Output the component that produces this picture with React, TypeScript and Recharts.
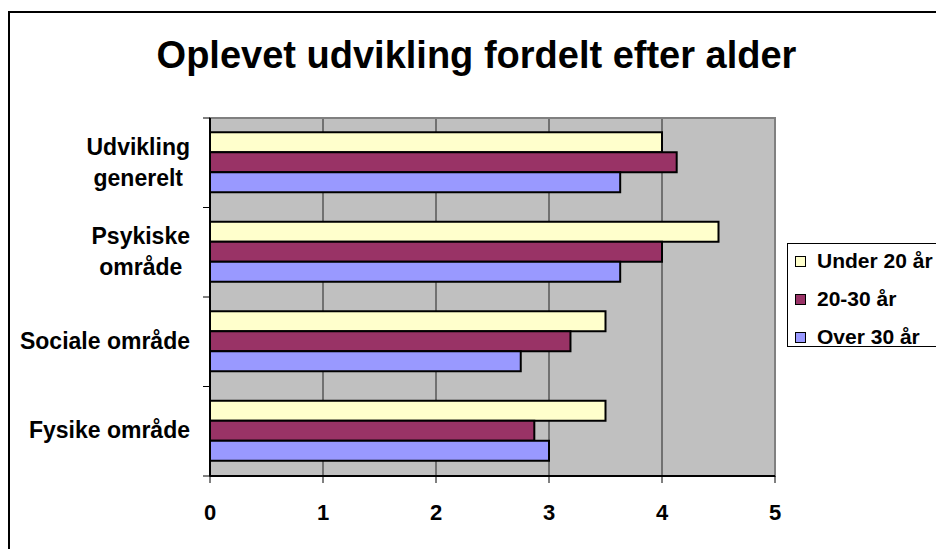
import { BarChart, Bar, XAxis, YAxis, CartesianGrid, ReferenceArea } from 'recharts'

const categories = ['Udvikling generelt', 'Psykiske område', 'Sociale område', 'Fysike område']
const categoryLines = [['Udvikling', 'generelt'], ['Psykiske', 'område'], ['Sociale område'], ['Fysike område']]
const seriesNames = ['Under 20 år', '20-30 år', 'Over 30 år']
const under20 = [4.0, 4.5, 3.5, 3.5]
const age20to30 = [4.13, 4.0, 3.19, 2.87]
const over30 = [3.63, 3.63, 2.75, 3.0]
const xTicks = [0, 1, 2, 3, 4, 5]

const seriesColors = ['#FFFFCC', '#993366', '#9999FF']
const seriesKeys = ['under20', 'age20to30', 'over30']

const data = categories.map((name, i) => ({
  name,
  under20: under20[i],
  age20to30: age20to30[i],
  over30: over30[i],
}))

const W = 936
const H = 549
const X_AXIS_H = 30
const MARGIN = { top: 118, right: 161, bottom: 43, left: 0 }
const YAXIS_W = 210
const PLOT_BOTTOM = H - MARGIN.bottom - X_AXIS_H
const PLOT_H = PLOT_BOTTOM - MARGIN.top
const FONT = 'Arial, "Liberation Sans", sans-serif'
const LABEL_SIZE = 23

function measure(text: string, size: number) {
  const ctx = document.createElement('canvas').getContext('2d')
  if (!ctx) return text.length * size * 0.55
  ctx.font = `bold ${size}px ${FONT}`
  return ctx.measureText(text).width
}

function CategoryTick(props: any) {
  const { y, index } = props
  const band = PLOT_H / categories.length
  const lines = categoryLines[index] ?? [categories[index]]
  const right = YAXIS_W - 20
  const widest = Math.max(...lines.map((l) => measure(l, LABEL_SIZE)))
  const cx = right - widest / 2
  const baselines = lines.length > 1 ? [y - 8, y + 23] : [y + 7]
  return (
    <g>
      <line x1={YAXIS_W - 7} x2={YAXIS_W} y1={y - band / 2} y2={y - band / 2} stroke="#000" />
      {index === categories.length - 1 && (
        <line x1={YAXIS_W - 7} x2={YAXIS_W} y1={y + band / 2} y2={y + band / 2} stroke="#000" />
      )}
      {lines.map((l, i) => (
        <text
          key={l}
          x={cx}
          y={baselines[i]}
          textAnchor="middle"
          fontFamily={FONT}
          fontWeight="bold"
          fontSize={LABEL_SIZE}
          fill="#000"
        >
          {l}
        </text>
      ))}
    </g>
  )
}

function ValueTick(props: any) {
  const { x, payload } = props
  return (
    <text
      x={x}
      y={PLOT_BOTTOM + 44}
      textAnchor="middle"
      fontFamily={FONT}
      fontWeight="bold"
      fontSize={22}
      fill="#000"
    >
      {payload.value}
    </text>
  )
}

export default function App() {
  return (
    <div
      style={{
        position: 'fixed',
        left: 0,
        top: 0,
        width: W,
        height: H,
        overflow: 'hidden',
        background: '#fff',
        fontFamily: FONT,
      }}
    >
      {/* outer chart frame, runs off the right and bottom edges */}
      <div
        style={{
          position: 'absolute',
          left: 8,
          top: 11,
          width: W + 20,
          height: H + 20,
          border: '2px solid #000',
        }}
      />
      <div
        style={{
          position: 'absolute',
          left: 0,
          width: 953,
          top: 36,
          lineHeight: '38px',
          fontSize: 38,
          fontWeight: 'bold',
          textAlign: 'center',
          color: '#000',
        }}
      >
        Oplevet udvikling fordelt efter alder
      </div>
      <div style={{ position: 'absolute', left: 0, top: 0 }}>
        <BarChart
          width={W}
          height={H}
          data={data}
          layout="vertical"
          margin={MARGIN}
          barGap={0}
          barCategoryGap="16%"
        >
          <CartesianGrid horizontal={false} stroke="#222" fill="#C0C0C0" />
          <ReferenceArea x1={0} x2={5} fill="none" stroke="#808080" strokeWidth={2} />
          <XAxis
            type="number"
            domain={[0, 5]}
            ticks={xTicks}
            interval={0}
            height={X_AXIS_H}
            axisLine={{ stroke: '#000', strokeWidth: 2 }}
            tickLine={{ stroke: '#000' }}
            tickSize={7}
            tick={<ValueTick />}
          />
          <YAxis
            type="category"
            dataKey="name"
            width={YAXIS_W}
            interval={0}
            axisLine={{ stroke: '#000', strokeWidth: 2 }}
            tickLine={false}
            tick={<CategoryTick />}
          />
          {seriesKeys.map((k, i) => (
            <Bar
              key={k}
              dataKey={k}
              name={seriesNames[i]}
              fill={seriesColors[i]}
              stroke="#000"
              strokeWidth={2}
              isAnimationActive={false}
            />
          ))}
        </BarChart>
      </div>
      {/* legend */}
      <div
        style={{
          position: 'absolute',
          left: 787,
          top: 243,
          width: 200,
          height: 102,
          border: '1px solid #000',
          background: '#fff',
        }}
      >
        {seriesNames.map((n, i) => (
          <div
            key={n}
            style={{
              position: 'absolute',
              left: 7,
              top: 6 + i * 38,
              height: 22,
              display: 'flex',
              alignItems: 'center',
              whiteSpace: 'nowrap',
            }}
          >
            <span
              style={{
                width: 9,
                height: 9,
                border: '1px solid #000',
                background: seriesColors[i],
                marginRight: 11,
              }}
            />
            <span style={{ fontSize: 21, fontWeight: 'bold', color: '#000' }}>{n}</span>
          </div>
        ))}
      </div>
    </div>
  )
}
